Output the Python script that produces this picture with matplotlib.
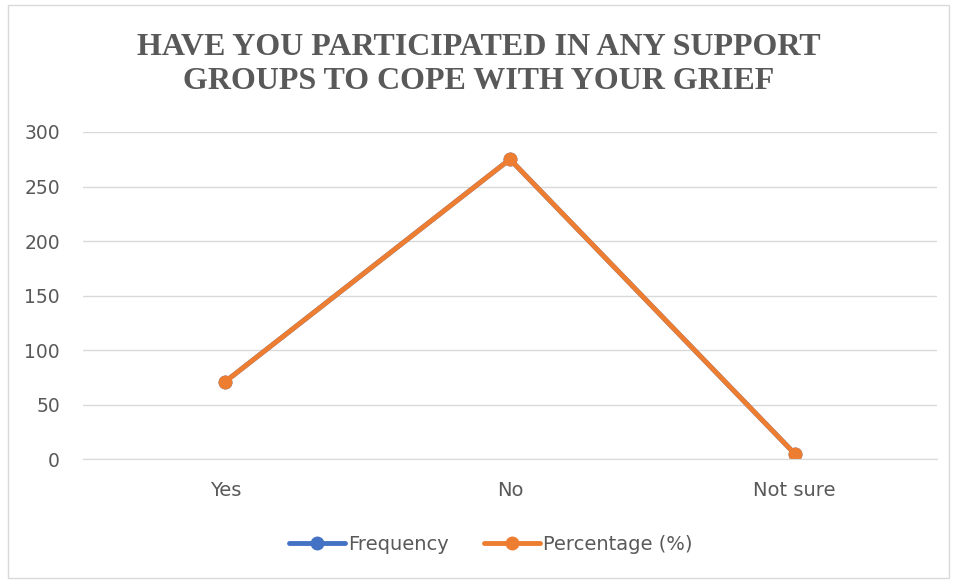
import numpy as np
import matplotlib.pyplot as plt
from matplotlib.patches import Rectangle

categories = ['Yes', 'No', 'Not sure']
frequency = [71, 275, 5]
percentage = [71, 275, 5]
yticks = [0, 50, 100, 150, 200, 250, 300]

title = 'HAVE YOU PARTICIPATED IN ANY SUPPORT\nGROUPS TO COPE WITH YOUR GRIEF'
text_color = '#595959'
grid_color = '#d9d9d9'

fig = plt.figure(figsize=(9.57, 5.82), dpi=100)
ax = fig.add_axes([0.0867, 0.2113, 0.8923, 0.5619])

x = np.arange(len(categories))
ax.plot(x, frequency, color='#4472c4', lw=3.5, marker='o', ms=9,
        label='Frequency', solid_capstyle='round')
ax.plot(x, percentage, color='#ed7d31', lw=3.5, marker='o', ms=9,
        label='Percentage (%)', solid_capstyle='round')

ax.set_xlim(-0.5, 2.5)
ax.set_ylim(0, 300)
ax.set_yticks(yticks)
ax.set_xticks(x)
ax.set_xticklabels(categories, fontsize=14)
ax.grid(axis='y', color=grid_color, lw=1)
ax.set_axisbelow(True)
for s in ['top', 'right', 'left']:
    ax.spines[s].set_visible(False)
ax.spines['bottom'].set_color(grid_color)
ax.tick_params(axis='both', length=0, labelcolor=text_color)
ax.tick_params(axis='y', pad=16.5, labelsize=13.5)
ax.tick_params(axis='x', pad=16)

fig.text(0.5, 0.889, title, ha='center', va='center', fontsize=23,
         fontweight='bold', family='Liberation Serif', color=text_color,
         linespacing=1.25)

leg = fig.legend(loc='center', bbox_to_anchor=(0.5125, 0.065), ncol=2, frameon=False,
                 fontsize=14, handlelength=2.9, handletextpad=0.15, columnspacing=1.8)
for t in leg.get_texts():
    t.set_color(text_color)

fig.patches.append(Rectangle((0.008, 0.007), 0.984, 0.985, transform=fig.transFigure,
                             fill=False, edgecolor='#d9d9d9', lw=1))

fig.savefig('out.png', dpi=100)
